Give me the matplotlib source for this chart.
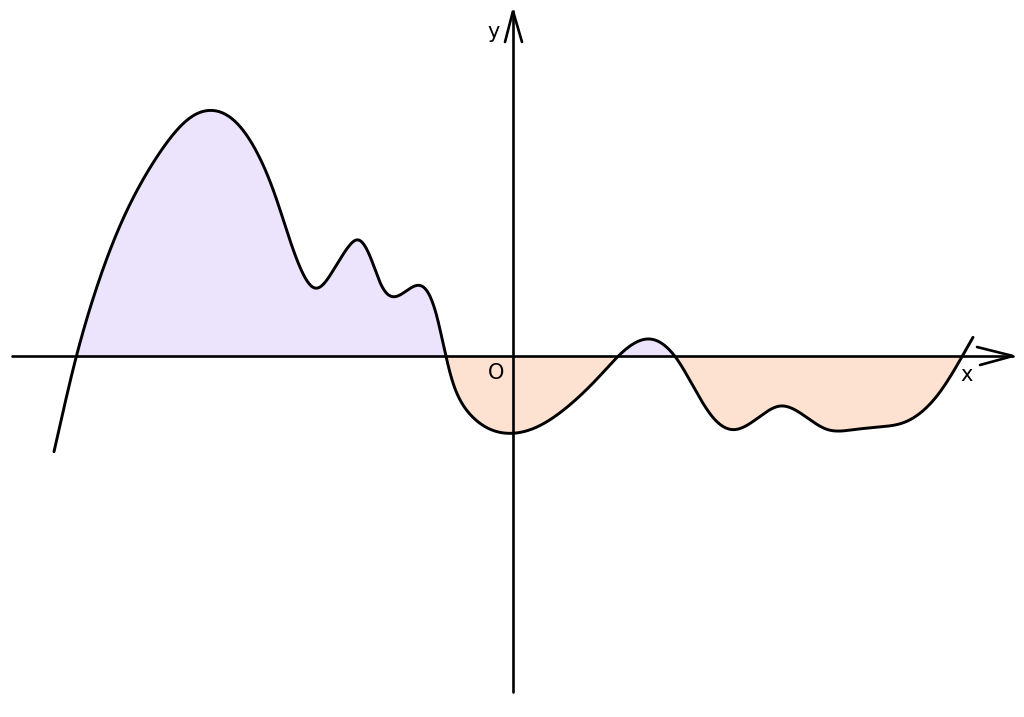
import numpy as np
import matplotlib
matplotlib.use("Agg")
import matplotlib.pyplot as plt

# Curve points (units: pixels relative to origin O)
knot_px = [54, 60, 75, 93, 110, 127, 143, 160, 177, 193, 208, 240, 267, 287, 300, 315, 333, 347,
           359, 371, 381, 388, 413, 428, 437, 446, 453, 470, 513, 535, 567, 583, 600, 617, 650,
           678, 693, 713, 733, 760, 780, 800, 827, 853, 880, 905, 920, 937, 953, 961, 973]
knot_py = [453, 427, 357, 300, 250, 210, 180, 153, 130, 115, 111, 126, 172, 233, 267, 290, 270, 250,
           237, 256, 289, 295, 287, 292, 310, 357, 390, 413, 433, 428, 407, 393, 377, 357, 338,
           357, 387, 420, 432, 417, 401, 413, 433, 428, 426, 423, 413, 397, 373, 357, 337]
curve_x = [p - 513 for p in knot_px]
curve_y = [356 - p for p in knot_py]

purple = "#ECE3FC"
orange = "#FDE2D2"


def smooth_curve(xk, yk, lam_soft=1000.0, lam_sharp=120.0, sharp_range=(-235, -55)):
    """Penalised (Whittaker) smoothing on a 1-unit grid; lighter smoothing where the
    curve has its small, sharp wiggles."""
    xk = np.asarray(xk, float)
    yk = np.asarray(yk, float)
    xs = np.arange(xk[0], xk[-1] + 1.0, 1.0)
    n = len(xs)
    B = np.zeros((len(xk), n))
    for i, xv in enumerate(xk):
        B[i, int(round(xv - xs[0]))] = 1.0
    D = np.diff(np.eye(n), 2, axis=0)
    xc = xs[1:-1]
    a, b = sharp_range
    w = 1.0 / (1.0 + np.exp(-(xc - a) / 8.0)) * 1.0 / (1.0 + np.exp((xc - b) / 8.0))
    lam = np.exp(np.log(lam_soft) * (1 - w) + np.log(lam_sharp) * w)
    A = B.T @ B + D.T @ (lam[:, None] * D)
    f = np.linalg.solve(A, B.T @ yk)
    xf = np.linspace(xs[0], xs[-1], 6 * n)
    return xf, np.interp(xf, xs, f)


sx, sy = smooth_curve(curve_x, curve_y)

sign = np.sign(sy)
cross = np.where(np.diff(sign) != 0)[0]
x_lo = sx[cross[0]]
x_hi = sx[cross[-1] + 1]
inside = (sx >= x_lo) & (sx <= x_hi)

fig = plt.figure(figsize=(10.24, 7.17), dpi=100)
ax = fig.add_axes([0, 0, 1, 1])
ax.set_xlim(-513, 511)
ax.set_ylim(-361, 356)
ax.axis("off")

ax.fill_between(sx, sy, 0, where=(sy >= 0) & inside, interpolate=True, color=purple, lw=0, zorder=1)
ax.fill_between(sx, sy, 0, where=(sy <= 0) & inside, interpolate=True, color=orange, lw=0, zorder=1)

lw = 1.9
ax.plot([-501, 500], [0, 0], color="black", lw=lw, zorder=2, solid_capstyle="round")
ax.plot([464, 500, 467], [9, 0, -9], color="black", lw=lw, zorder=2,
        solid_capstyle="round", solid_joinstyle="miter")
ax.plot([0, 0], [-336, 345], color="black", lw=lw, zorder=2, solid_capstyle="round")
ax.plot([-8, 0, 9], [314, 345, 314], color="black", lw=lw, zorder=2,
        solid_capstyle="round", solid_joinstyle="miter")

ax.plot(sx, sy, color="black", lw=2.1, zorder=3, solid_capstyle="round")

ax.text(-19, 324, "y", fontsize=15, ha="center", va="center", family="DejaVu Sans")
ax.text(454, -19, "x", fontsize=15, ha="center", va="center", family="DejaVu Sans")
ax.text(-17, -17, "O", fontsize=15, ha="center", va="center", family="DejaVu Sans")

fig.savefig("out.png", dpi=100, facecolor="white")
